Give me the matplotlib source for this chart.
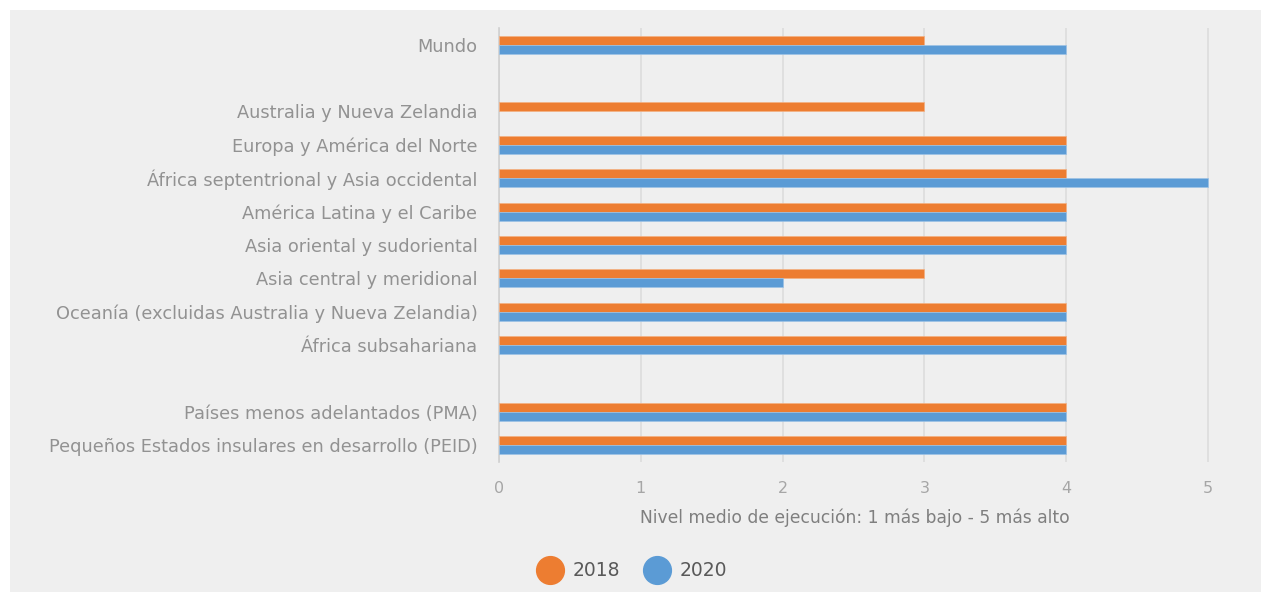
import matplotlib.pyplot as plt
import numpy as np
from matplotlib.patches import Rectangle

# regions, blank strings are the spacer rows
regiones = ['Mundo', '', 'Australia y Nueva Zelandia', 'Europa y América del Norte',
            'África septentrional y Asia occidental', 'América Latina y el Caribe',
            'Asia oriental y sudoriental', 'Asia central y meridional',
            'Oceanía (excluidas Australia y Nueva Zelandia)', 'África subsahariana', '',
            'Países menos adelantados (PMA)', 'Pequeños Estados insulares en desarrollo (PEID)']
v2018 = [3, np.nan, 3, 4, 4, 4, 4, 3, 4, 4, np.nan, 4, 4]
v2020 = [4, np.nan, np.nan, 4, 5, 4, 4, 2, 4, 4, np.nan, 4, 4]
xticks = [0, 1, 2, 3, 4, 5]

naranja = '#ED7D31'
azul = '#5B9BD5'
gris_txt = '#929292'
fondo = '#EFEFEF'

plt.rcParams['font.family'] = ['DejaVu Sans']

fig = plt.figure(figsize=(12.61, 5.93), dpi=100)
fig.patch.set_facecolor('white')
# gray panel behind the whole chart
fig.patches.append(Rectangle((10/1261, 1/593), 1.0, (582)/593, transform=fig.transFigure,
                             facecolor=fondo, edgecolor='none', zorder=-10))

ax = fig.add_axes([499/1261, 1-462/593, (1211-499)/1261, (462-28)/593])
ax.set_facecolor('none')

y = np.arange(len(regiones))
h = 0.27
ax.barh(y - h/2, v2018, height=h, color=naranja, edgecolor='#f4b183', linewidth=0.5, label='2018', zorder=3)
ax.barh(y + h/2, v2020, height=h, color=azul, edgecolor='#9dc3e6', linewidth=0.5, label='2020', zorder=3)

ax.set_ylim(12.5, -0.5)
ax.set_xlim(0, 5.02)
ax.set_yticks(y)
ax.set_yticklabels(regiones, fontsize=12.8, color=gris_txt)
ax.set_xticks(xticks)
ax.set_xticklabels([str(t) for t in xticks], fontsize=11.5, color='#a6a6a6')
ax.tick_params(axis='both', length=0)
ax.tick_params(axis='y', pad=15.5)
ax.tick_params(axis='x', pad=14)
ax.grid(axis='x', color='#dcdcdc', linewidth=1.2, zorder=0)
for s in ['top', 'right', 'bottom']:
    ax.spines[s].set_visible(False)
ax.spines['left'].set_color('#d0d0d0')
ax.spines['left'].set_linewidth(1.2)

ax.set_xlabel('Nivel medio de ejecución: 1 más bajo - 5 más alto', fontsize=12.3, color='#7f7f7f', labelpad=9)

# legend with round markers
h1 = plt.Line2D([], [], marker='o', linestyle='none', markersize=20, color=naranja)
h2 = plt.Line2D([], [], marker='o', linestyle='none', markersize=20, color=azul)
fig.legend([h1, h2], ['2018', '2020'], loc='center', bbox_to_anchor=(0.502, 1-571/593),
           ncol=2, frameon=False, fontsize=13.5, labelcolor='#595959',
           handletextpad=0.6, columnspacing=1.4, handlelength=1.2)

plt.savefig('out.png', dpi=100, facecolor=fig.get_facecolor())
